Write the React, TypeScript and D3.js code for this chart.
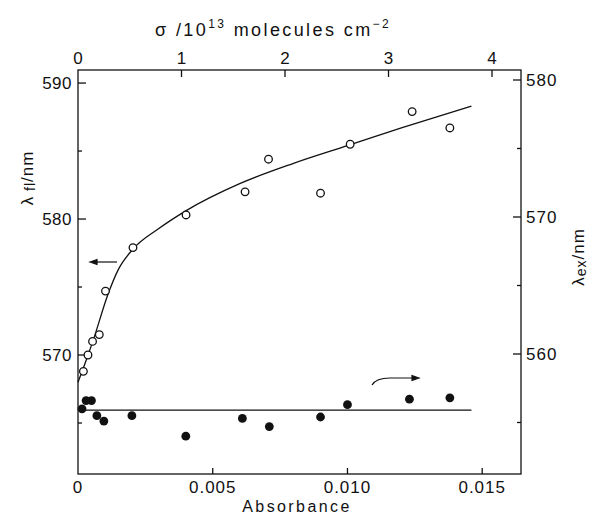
import React, { useRef, useEffect } from 'react';
import * as d3 from 'd3';

// open circles: fluorescence maximum (left axis)
const absOpen = [0.0002, 0.00037, 0.00054, 0.00079, 0.00102, 0.00204, 0.00401, 0.0062, 0.00707, 0.0090, 0.0101, 0.0124, 0.0138];
const lamFl = [568.8, 570.0, 571.0, 571.5, 574.7, 577.9, 580.3, 582.0, 584.4, 581.9, 585.5, 587.9, 586.7];
// filled dots: excitation maximum (right axis)
const absFilled = [0.00015, 0.0003, 0.0005, 0.0007, 0.00096, 0.002, 0.0040, 0.0061, 0.0071, 0.0090, 0.0100, 0.0123, 0.0138];
const lamEx = [556.0, 556.6, 556.6, 555.5, 555.1, 555.5, 554.0, 555.3, 554.7, 555.4, 556.3, 556.7, 556.8];
// drawn curves
const fitAbs = [0, 0.0003, 0.0006, 0.0011, 0.0015, 0.002, 0.003, 0.004, 0.006, 0.008, 0.010, 0.012, 0.0146];
const fitFl = [568.0, 569.6, 571.3, 574.4, 576.3, 577.7, 579.3, 580.6, 582.6, 584.1, 585.4, 586.7, 588.3];
const flatAbs = [0, 0.0146];
const flatEx = [555.9, 555.9];

const absTicks = [0.005, 0.010, 0.015];
const absLabels = ['0', '0.005', '0.010', '0.015'];
const sigmaTicks = [1, 2, 3, 4];
const sigmaLabels = ['0', '1', '2', '3', '4'];
const flTicks = [570, 580, 590];
const flMinor = [565, 575, 585];
const exTicks = [560, 570, 580];
const exMinor = [555, 565, 575];

const W = 594;
const H = 517;
const left = 78, right = 521, top = 70, bottom = 474;
const FONT = 'Liberation Sans, Arial, sans-serif';

const Chart = () => {
  const ref = useRef<SVGSVGElement>(null);

  useEffect(() => {
    const svg = d3.select(ref.current);
    svg.selectAll('*').remove();

    const x = d3.scaleLinear().domain([0, 0.01644]).range([left, right]);
    const xs = d3.scaleLinear().domain([0, 4.28]).range([left, right]);
    const yl = d3.scaleLinear().domain([561.25, 590.96]).range([bottom, top]);
    const yr = d3.scaleLinear().domain([551.24, 580.73]).range([bottom, top]);

    const g = svg.append('g').attr('stroke', '#111').attr('fill', 'none');

    // frame
    g.append('rect')
      .attr('x', left).attr('y', top)
      .attr('width', right - left).attr('height', bottom - top)
      .attr('stroke-width', 1.3);

    // ticks (all inward)
    g.selectAll('.bt').data(absTicks).enter().append('line')
      .attr('x1', d => x(d)).attr('x2', d => x(d))
      .attr('y1', bottom).attr('y2', bottom - 6).attr('stroke-width', 1.3);
    g.selectAll('.tt').data(sigmaTicks).enter().append('line')
      .attr('x1', d => xs(d)).attr('x2', d => xs(d))
      .attr('y1', top).attr('y2', top + 7).attr('stroke-width', 1.3);
    g.selectAll('.lt').data(flTicks).enter().append('line')
      .attr('x1', left).attr('x2', left + 8)
      .attr('y1', d => yl(d)).attr('y2', d => yl(d)).attr('stroke-width', 1.3);
    g.selectAll('.lm').data(flMinor).enter().append('line')
      .attr('x1', left).attr('x2', left + 4)
      .attr('y1', d => yl(d)).attr('y2', d => yl(d)).attr('stroke-width', 1.3);
    g.selectAll('.rt').data(exTicks).enter().append('line')
      .attr('x1', right).attr('x2', right - 8)
      .attr('y1', d => yr(d)).attr('y2', d => yr(d)).attr('stroke-width', 1.3);
    g.selectAll('.rm').data(exMinor).enter().append('line')
      .attr('x1', right).attr('x2', right - 4)
      .attr('y1', d => yr(d)).attr('y2', d => yr(d)).attr('stroke-width', 1.3);

    const txt = svg.append('g').attr('font-family', FONT).attr('fill', '#111').attr('font-size', 17);

    txt.selectAll('.bl').data([0, ...absTicks]).enter().append('text')
      .attr('x', d => x(d)).attr('y', 493).attr('text-anchor', 'middle')
      .attr('letter-spacing', 1)
      .text((d, i) => absLabels[i]);
    txt.selectAll('.tl').data([0, ...sigmaTicks]).enter().append('text')
      .attr('x', d => xs(d)).attr('y', 64).attr('text-anchor', 'middle')
      .text((d, i) => sigmaLabels[i]);
    txt.selectAll('.ll').data(flTicks).enter().append('text')
      .attr('x', left - 6).attr('y', d => yl(d) + 6).attr('text-anchor', 'end')
      .attr('letter-spacing', 0.5)
      .text(d => d);
    txt.selectAll('.rl').data(exTicks).enter().append('text')
      .attr('x', right + 5).attr('y', d => yr(d) + 6).attr('text-anchor', 'start')
      .attr('letter-spacing', 1)
      .text(d => d);

    // axis titles
    txt.append('text').attr('x', 297).attr('y', 512).attr('text-anchor', 'middle')
      .attr('font-size', 16).attr('letter-spacing', 2.4).text('Absorbance');

    const t = txt.append('text').attr('x', 155).attr('y', 36)
      .attr('font-size', 18).attr('letter-spacing', 2.4);
    t.append('tspan').text('σ /10');
    t.append('tspan').attr('dy', -8).attr('font-size', 12).text('13');
    t.append('tspan').attr('dy', 8).text(' molecules cm');
    t.append('tspan').attr('dy', -8).attr('font-size', 12).text('−2');

    const ll = txt.append('text')
      .attr('transform', `translate(33, 178) rotate(-90)`)
      .attr('text-anchor', 'middle').attr('letter-spacing', 1);
    ll.append('tspan').text('λ');
    ll.append('tspan').attr('font-size', 14).attr('dy', 2).text(' fl');
    ll.append('tspan').attr('dy', -2).text('/nm');

    const rl = txt.append('text')
      .attr('transform', `translate(584, 257) rotate(-90)`)
      .attr('text-anchor', 'middle').attr('letter-spacing', 1);
    rl.append('tspan').text('λ');
    rl.append('tspan').attr('font-size', 14).attr('dy', 2).text('ex');
    rl.append('tspan').attr('dy', -2).text('/nm');

    // curves
    const fitLine = d3.line<number>()
      .x(d => x(d)).y((d, i) => yl(fitFl[i]))
      .curve(d3.curveMonotoneX);
    g.append('path').attr('d', fitLine(fitAbs)).attr('stroke-width', 1.3);

    const flatLine = d3.line<number>()
      .x(d => x(d)).y((d, i) => yr(flatEx[i]));
    g.append('path').attr('d', flatLine(flatAbs)).attr('stroke-width', 1.4);

    // points
    svg.append('g').selectAll('circle').data(absOpen).enter().append('circle')
      .attr('cx', d => x(d)).attr('cy', (d, i) => yl(lamFl[i])).attr('r', 3.8)
      .attr('fill', '#fff').attr('stroke', '#111').attr('stroke-width', 1.3);
    svg.append('g').selectAll('circle').data(absFilled).enter().append('circle')
      .attr('cx', d => x(d)).attr('cy', (d, i) => yr(lamEx[i])).attr('r', 4.4)
      .attr('fill', '#111');

    // arrows
    const ar = svg.append('g').attr('stroke', '#111').attr('fill', 'none').attr('stroke-width', 1.2);
    ar.append('line').attr('x1', 92).attr('x2', 117).attr('y1', 262).attr('y2', 262);
    ar.append('path').attr('d', 'M90,262 L97,259.5 L97,264.5 Z').attr('fill', '#111');
    ar.append('path').attr('d', 'M372,385 Q376,378 390,378 L414,378');
    ar.append('path').attr('d', 'M419,378 L412,375.5 L412,380.5 Z').attr('fill', '#111');
  }, []);

  return (
    <svg ref={ref} width={W} height={H}
      style={{ position: 'absolute', left: 0, top: 0, background: '#fff' }} />
  );
};

export default function App() {
  return <Chart />;
}
